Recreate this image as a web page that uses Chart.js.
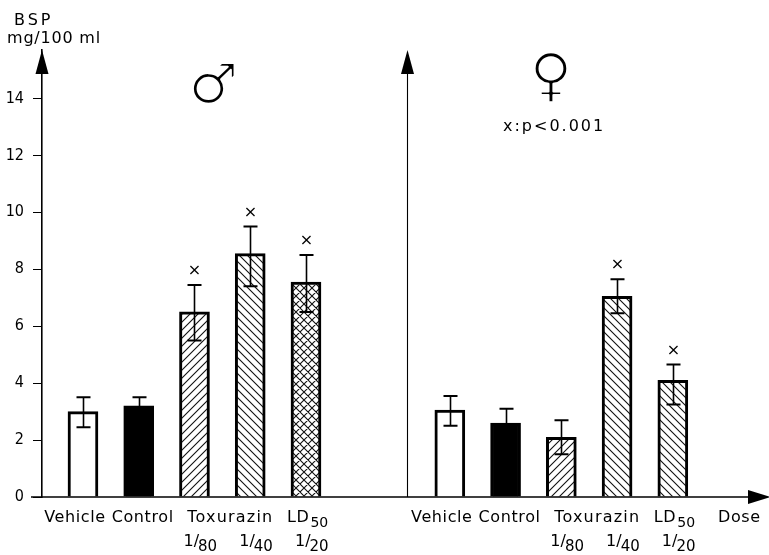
<!DOCTYPE html>
<html>
<head>
<meta charset="utf-8">
<script src="https://cdn.jsdelivr.net/npm/chart.js@4/dist/chart.umd.min.js"></script>
<style>
  html, body { margin: 0; padding: 0; background: #fff; }
  #wrap { width: 769px; height: 555px; position: relative; }
</style>
</head>
<body>
<div id="wrap"><canvas id="c" width="769" height="555"></canvas></div>
<script>
// Groups: vehicle, untreated control, and three Toxurazin doses (fractions of LD50)
const groups = ['Vehicle', 'Control', '1/80', '1/40', '1/20'];
const doseDenominators = ['80', '40', '20'];

// BSP retention, mg/100 ml – males
const maleMean = [3.0, 3.2, 6.5, 8.55, 7.55];
const maleLow  = [2.45, 2.9, 5.5, 7.4, 6.5];
const maleHigh = [3.5, 3.5, 7.45, 9.5, 8.5];
const maleSig  = [false, false, true, true, true];

// BSP retention, mg/100 ml – females
const femaleMean = [3.05, 2.6, 2.1, 7.05, 4.1];
const femaleLow  = [2.5, 2.1, 1.5, 6.45, 3.25];
const femaleHigh = [3.55, 3.1, 2.7, 7.65, 4.65];
const femaleSig  = [false, false, false, true, true];

// Y-axis tick labels
const yTicks = [0, 2, 4, 6, 8, 10, 12, 14];

// fill style of each group
const maleFills   = ['white', 'black', 'fwd', 'back', 'cross'];
const femaleFills = ['white', 'black', 'fwd', 'back', 'back'];

// horizontal offset of the female panel on the shared x scale
const FEMALE_SHIFT = 6.58;

const FONT = '"DejaVu Sans", "Noto Sans", sans-serif';

function makeFill(kind) {
  if (kind === 'white') return '#ffffff';
  if (kind === 'black') return '#000000';
  const s = 8;
  const c = document.createElement('canvas');
  c.width = c.height = s;
  const g = c.getContext('2d');
  g.fillStyle = '#ffffff';
  g.fillRect(0, 0, s, s);
  g.strokeStyle = '#111';
  g.lineWidth = 1.1;
  g.beginPath();
  if (kind === 'fwd' || kind === 'cross') {
    g.moveTo(-1, s + 1); g.lineTo(s + 1, -1);
    g.moveTo(-1, 1); g.lineTo(1, -1);
    g.moveTo(s - 1, s + 1); g.lineTo(s + 1, s - 1);
  }
  if (kind === 'back' || kind === 'cross') {
    g.moveTo(-1, -1); g.lineTo(s + 1, s + 1);
    g.moveTo(-1, s - 1); g.lineTo(1, s + 1);
    g.moveTo(s - 1, -1); g.lineTo(s + 1, 1);
  }
  g.stroke();
  return g.createPattern(c, 'repeat');
}

// draw a single glyph so that its ink box has the given height and centre,
// then thin its strokes with a white outline for a light drawing-pen look
function drawGlyph(ctx, ch, cx, cy, h, thin) {
  ctx.font = '100px ' + FONT;
  let m = ctx.measureText(ch);
  const size = 100 * h / (m.actualBoundingBoxAscent + m.actualBoundingBoxDescent);
  ctx.font = size.toFixed(1) + 'px ' + FONT;
  m = ctx.measureText(ch);
  const left = m.actualBoundingBoxLeft, right = m.actualBoundingBoxRight;
  const asc = m.actualBoundingBoxAscent, desc = m.actualBoundingBoxDescent;
  ctx.textAlign = 'left';
  ctx.textBaseline = 'alphabetic';
  const x = cx - (right - left) / 2, y = cy + (asc - desc) / 2;
  ctx.fillStyle = '#000';
  ctx.fillText(ch, x, y);
  ctx.strokeStyle = '#fff';
  ctx.lineWidth = thin;
  ctx.lineJoin = 'round';
  ctx.strokeText(ch, x, y);
  ctx.fillStyle = '#000';
}

const maleX = groups.map((_, i) => i);
const femaleX = groups.map((_, i) => i + FEMALE_SHIFT);

const barStyle = {
  barThickness: 30,
  grouped: false,
  borderColor: '#000',
  borderWidth: 3,
  borderSkipped: 'start'
};

// error bars and significance marks
const whiskers = {
  id: 'whiskers',
  afterDatasetsDraw(chart) {
    const y = chart.scales.y;
    const ctx = chart.ctx;
    const sets = [
      { low: maleLow, high: maleHigh, sig: maleSig },
      { low: femaleLow, high: femaleHigh, sig: femaleSig }
    ];
    ctx.save();
    ctx.strokeStyle = '#000';
    ctx.fillStyle = '#000';
    sets.forEach((s, d) => {
      const meta = chart.getDatasetMeta(d);
      meta.data.forEach((bar, i) => {
        const x = Math.round(bar.x) + 0.5;
        const yl = y.getPixelForValue(s.low[i]);
        const yh = y.getPixelForValue(s.high[i]);
        ctx.lineWidth = 1.6;
        ctx.beginPath();
        ctx.moveTo(x, yl); ctx.lineTo(x, yh);
        ctx.stroke();
        ctx.lineWidth = 2;
        ctx.beginPath();
        ctx.moveTo(x - 7, yh); ctx.lineTo(x + 7, yh);
        ctx.moveTo(x - 7, yl); ctx.lineTo(x + 7, yl);
        ctx.stroke();
        if (s.sig[i]) {
          ctx.font = '16px ' + FONT;
          ctx.textAlign = 'center';
          ctx.textBaseline = 'middle';
          ctx.fillText('×', x, yh - 14);
        }
      });
    });
    ctx.restore();
  }
};

// axes with arrowheads, captions and sex symbols
const decor = {
  id: 'decor',
  afterDraw(chart) {
    const ctx = chart.ctx;
    const xs = chart.scales.x, ys = chart.scales.y;
    const area = chart.chartArea;
    const y0 = ys.getPixelForValue(0);
    ctx.save();
    ctx.fillStyle = '#000';
    ctx.strokeStyle = '#000';

    // x axis with arrow
    ctx.lineWidth = 1.6;
    ctx.beginPath();
    ctx.moveTo(31, y0); ctx.lineTo(752, y0);
    ctx.stroke();
    ctx.beginPath();
    ctx.moveTo(771, y0); ctx.lineTo(748, y0 - 7); ctx.lineTo(748, y0 + 7); ctx.closePath();
    ctx.fill();

    // left axis arrowhead
    const lx = area.left;
    ctx.beginPath();
    ctx.moveTo(lx, area.top); ctx.lineTo(lx - 6.5, area.top + 24); ctx.lineTo(lx + 6.5, area.top + 24); ctx.closePath();
    ctx.fill();

    // female panel axis
    const rx = Math.round(xs.getPixelForValue(FEMALE_SHIFT - 0.77)) + 0.5;
    ctx.lineWidth = 1.1;
    ctx.beginPath();
    ctx.moveTo(rx, y0); ctx.lineTo(rx, area.top + 20);
    ctx.stroke();
    ctx.beginPath();
    ctx.moveTo(rx, area.top); ctx.lineTo(rx - 6.5, area.top + 24); ctx.lineTo(rx + 6.5, area.top + 24); ctx.closePath();
    ctx.fill();

    // y-axis title
    ctx.textAlign = 'left';
    ctx.textBaseline = 'alphabetic';
    ctx.font = '16px ' + FONT;
    ctx.letterSpacing = '3px';
    ctx.fillText('BSP', 14, 25);
    ctx.letterSpacing = '0.8px';
    ctx.fillText('mg/100 ml', 7, 43);

    // captions under both panels
    const panels = [maleX, femaleX];
    panels.forEach((px) => {
      const bx = (v) => xs.getPixelForValue(v);
      ctx.font = '16px ' + FONT;
      ctx.letterSpacing = '0.6px';
      ctx.textAlign = 'center';
      ctx.fillText(groups[0], bx(px[0]) - 8, 522);
      ctx.fillText(groups[1], bx(px[1]) + 4, 522);
      ctx.letterSpacing = '1.2px';
      ctx.fillText('Toxurazin', (bx(px[2]) + bx(px[3])) / 2 + 8, 522);
      ctx.letterSpacing = '0.6px';
      ctx.textAlign = 'left';
      const lx0 = bx(px[4]) - 19;
      ctx.fillText('LD', lx0, 522);
      const w = ctx.measureText('LD').width;
      ctx.font = '14px ' + FONT;
      ctx.letterSpacing = '0px';
      ctx.fillText('50', lx0 + w + 1, 527);
      // dose fractions
      for (let k = 0; k < 3; k++) {
        const sx = bx(px[k + 2]) - 11;
        ctx.font = '16px ' + FONT;
        ctx.fillText('1/', sx, 546);
        const w1 = ctx.measureText('1/').width;
        ctx.font = '15px ' + FONT;
        ctx.fillText(doseDenominators[k], sx + w1 - 1, 551);
      }
    });

    ctx.font = '16px ' + FONT;
    ctx.letterSpacing = '0.6px';
    ctx.textAlign = 'left';
    ctx.fillText('Dose', 718, 522);

    // sex symbols and significance note
    ctx.letterSpacing = '0px';
    drawGlyph(ctx, '♂', 214, 83, 42, 2.2);
    drawGlyph(ctx, '♀', 551, 77, 51, 2.2);
    ctx.textBaseline = 'alphabetic';
    ctx.textAlign = 'left';
    ctx.font = '16px ' + FONT;
    ctx.letterSpacing = '2px';
    ctx.fillText('x:p<0.001', 503, 131);
    ctx.restore();
  }
};

new Chart(document.getElementById('c'), {
  type: 'bar',
  data: {
    datasets: [
      Object.assign({
        label: '♂',
        data: maleX.map((x, i) => ({ x, y: maleMean[i] })),
        backgroundColor: maleFills.map(makeFill)
      }, barStyle),
      Object.assign({
        label: '♀',
        data: femaleX.map((x, i) => ({ x, y: femaleMean[i] })),
        backgroundColor: femaleFills.map(makeFill)
      }, barStyle)
    ]
  },
  options: {
    responsive: false,
    animation: false,
    devicePixelRatio: 1,
    layout: { padding: { top: 50, bottom: 58, left: 0, right: 0 } },
    plugins: { legend: { display: false }, tooltip: { enabled: false } },
    scales: {
      x: {
        type: 'linear',
        display: false,
        offset: false,
        min: -0.735,
        max: 12.305
      },
      y: {
        min: 0,
        max: 15.7,
        afterBuildTicks: (s) => { s.ticks = yTicks.map(v => ({ value: v })); },
        afterFit: (s) => { s.width = 42; },
        grid: { drawOnChartArea: false, drawTicks: true, tickLength: 9, color: '#000', lineWidth: 1 },
        border: { display: true, color: '#000', width: 1.6 },
        ticks: {
          padding: 9,
          color: '#000',
          font: { family: '"DejaVu Sans Condensed", "DejaVu Sans", sans-serif', size: 16 }
        }
      }
    }
  },
  plugins: [whiskers, decor]
});
</script>
</body>
</html>
